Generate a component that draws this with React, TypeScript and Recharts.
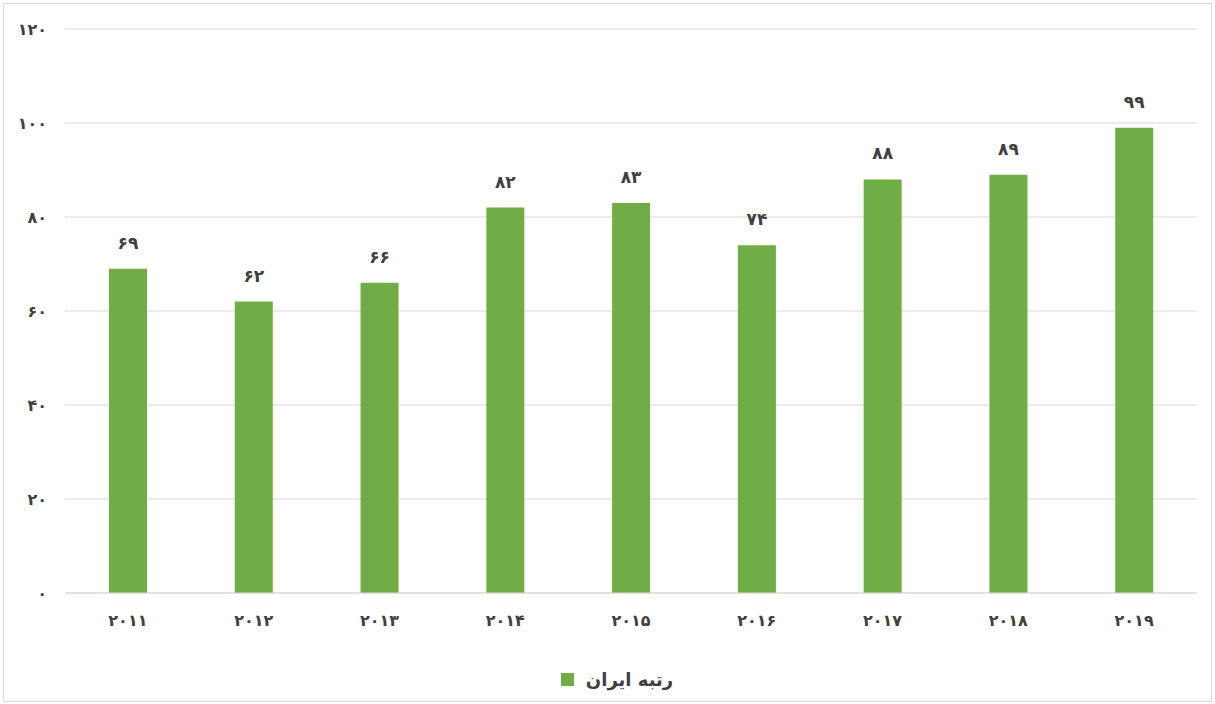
// نمودار رتبه ایران با Recharts
import React from 'react';
import { BarChart, Bar, XAxis, YAxis, CartesianGrid, Legend, LabelList } from 'recharts';

const years = ['2011', '2012', '2013', '2014', '2015', '2016', '2017', '2018', '2019'];
const ranks = [69, 62, 66, 82, 83, 74, 88, 89, 99];
const yTicks = [0, 20, 40, 60, 80, 100, 120];

const data = years.map((year, i) => ({ year, rank: ranks[i] }));

const faDigits = '۰۱۲۳۴۵۶۷۸۹';
const toFa = (v: any) => String(v).replace(/[0-9]/g, (d) => faDigits[Number(d)]);

const textColor = '#404040';
const barColor = '#70ad47';
const font = '"DejaVu Sans", sans-serif';

const LegendBox = () => (
  <div
    style={{
      display: 'flex',
      justifyContent: 'center',
      alignItems: 'center',
      paddingLeft: 37,
      fontFamily: font,
    }}
  >
    <span style={{ width: 13, height: 13, background: barColor, marginRight: 12 }} />
    <span style={{ color: textColor, fontSize: 18, fontWeight: 'bold' }}>رتبه ایران</span>
  </div>
);

export default function App() {
  return (
    <div
      style={{
        position: 'absolute',
        left: 0,
        top: 0,
        width: 1215,
        height: 704,
        background: '#fff',
      }}
    >
      <div
        style={{
          position: 'absolute',
          left: 3,
          top: 3,
          width: 1207,
          height: 697,
          border: '1px solid #d9d9d9',
        }}
      />
      <BarChart
        width={1215}
        height={704}
        data={data}
        margin={{ top: 29, right: 18, left: 0, bottom: 5 }}
        style={{ fontFamily: font }}
      >
        <CartesianGrid vertical={false} stroke="#d9d9d9" />
        <XAxis
          dataKey="year"
          axisLine={{ stroke: '#d9d9d9' }}
          tickLine={false}
          tickMargin={16}
          height={76}
          tick={{ fill: textColor, fontSize: 16, fontWeight: 'bold' }}
          tickFormatter={toFa}
        />
        <YAxis
          width={65}
          domain={[0, 120]}
          ticks={yTicks}
          axisLine={false}
          tickLine={false}
          tickMargin={12}
          tick={{ fill: textColor, fontSize: 16, fontWeight: 'bold' }}
          tickFormatter={toFa}
        />
        <Legend verticalAlign="bottom" height={30} content={() => <LegendBox />} />
        <Bar dataKey="rank" name="رتبه ایران" fill={barColor} barSize={38} isAnimationActive={false}>
          <LabelList
            dataKey="rank"
            position="top"
            offset={20}
            formatter={toFa}
            style={{ fill: textColor, fontSize: 17, fontWeight: 'bold' }}
          />
        </Bar>
      </BarChart>
    </div>
  );
}
